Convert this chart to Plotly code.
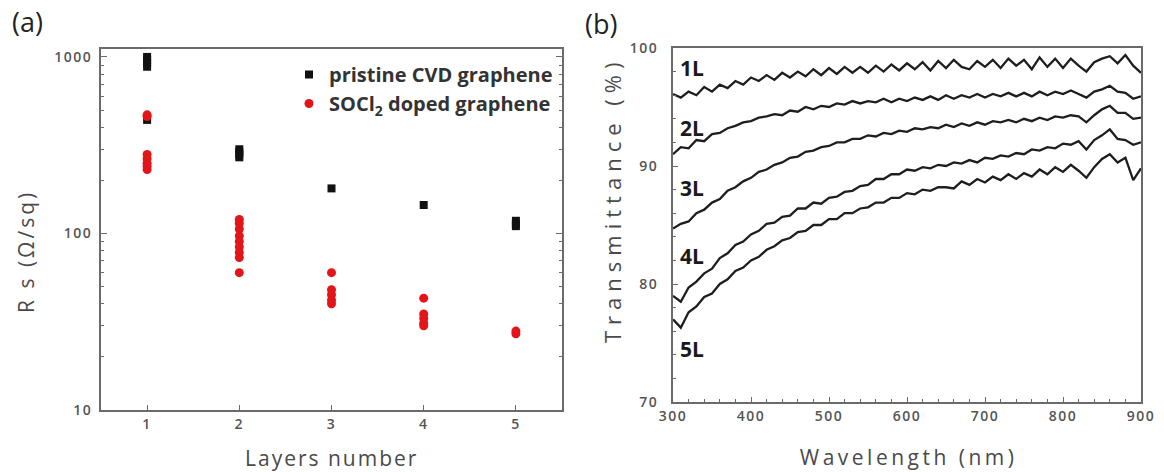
import plotly.graph_objects as go

# ---------------- Panel (a) data ----------------
pristine_layers = [1, 1, 1, 1, 1, 2, 2, 2, 2, 3, 4, 5, 5, 5]
pristine_rs = [1000, 960, 920, 880, 440, 300, 290, 280, 270, 180, 145, 118, 113, 110]

doped_layers = [1, 1, 1, 1, 1, 1, 1,
                2, 2, 2, 2, 2, 2, 2, 2, 2,
                3, 3, 3, 3, 3,
                4, 4, 4, 4, 4,
                5, 5]
doped_rs = [470, 460, 280, 265, 250, 240, 230,
            120, 114, 106, 97, 90, 84, 78, 73, 60,
            60, 48, 45, 42, 40,
            43, 35, 33, 31, 30,
            28, 27]

layer_ticks = [1, 2, 3, 4, 5]

# ---------------- Panel (b) data ----------------
wavelength = list(range(300, 901, 10))

t_1L = [96.1, 95.8, 96.3, 96.0, 96.7, 96.3, 96.9, 96.6, 97.2, 96.9,
        97.5, 97.2, 97.7, 97.3, 97.9, 97.5, 98.0, 97.6, 98.2, 97.7,
        98.3, 97.8, 98.4, 97.9, 98.4, 97.9, 98.5, 98.0, 98.6, 98.1,
        98.7, 98.2, 98.8, 98.1, 98.9, 98.3, 99.0, 98.4, 98.2, 98.9,
        98.4, 99.0, 98.3, 99.1, 98.5, 99.0, 98.2, 99.2, 98.4, 99.1,
        98.3, 99.1, 98.5, 98.0, 98.8, 99.1, 99.3, 98.7, 99.4, 98.5,
        97.9]
t_2L = [91.0, 91.6, 91.5, 92.2, 92.1, 92.7, 92.8, 93.2, 93.4, 93.7,
        93.8, 94.1, 94.2, 94.4, 94.3, 94.7, 94.6, 95.0, 94.8, 95.1,
        95.0, 95.3, 95.2, 95.5, 95.3, 95.5, 95.4, 95.7, 95.4, 95.7,
        95.5, 95.8, 95.6, 95.9, 95.6, 96.0, 95.7, 96.0, 95.8, 96.1,
        95.8, 96.1, 95.9, 96.2, 95.9, 96.2, 95.9, 96.3, 96.0, 96.3,
        96.1, 96.4, 96.1, 95.8, 96.3, 96.5, 96.8, 96.3, 96.2, 95.7,
        95.9]
t_3L = [84.7, 85.1, 85.3, 86.0, 86.3, 86.9, 87.2, 87.9, 88.2, 88.7,
        89.0, 89.5, 89.7, 90.1, 90.3, 90.7, 90.8, 91.2, 91.3, 91.6,
        91.7, 92.0, 92.0, 92.3, 92.3, 92.6, 92.5, 92.8, 92.7, 93.0,
        92.9, 93.2, 93.1, 93.3, 93.2, 93.5, 93.3, 93.6, 93.4, 93.7,
        93.5, 93.8, 93.7, 93.9, 93.7, 94.0, 93.8, 94.1, 93.9, 94.2,
        94.1, 94.3, 94.2, 93.7, 94.3, 94.8, 95.1, 94.5, 94.5, 94.0,
        94.1]
t_4L = [79.0, 78.5, 79.7, 80.2, 80.9, 81.3, 82.2, 82.6, 83.3, 83.6,
        84.2, 84.5, 85.1, 85.2, 85.7, 85.8, 86.4, 86.4, 86.9, 86.8,
        87.3, 87.4, 87.8, 87.9, 88.3, 88.4, 88.9, 88.9, 89.3, 89.3,
        89.7, 89.6, 89.9, 89.8, 90.1, 90.0, 90.3, 90.2, 90.5, 90.3,
        90.7, 90.6, 90.9, 90.8, 91.1, 91.0, 91.4, 91.3, 91.6, 91.5,
        91.9, 91.8, 92.1, 91.4, 92.2, 92.6, 93.1, 92.3, 92.2, 91.8,
        92.0]
t_5L = [77.0, 76.3, 77.6, 78.1, 78.9, 79.2, 80.0, 80.4, 81.1, 81.4,
        82.0, 82.3, 82.9, 83.2, 83.7, 83.9, 84.4, 84.5, 85.0, 85.0,
        85.5, 85.5, 86.0, 86.0, 86.4, 86.5, 86.9, 86.9, 87.3, 87.3,
        87.7, 87.6, 88.0, 87.9, 88.2, 88.2, 88.1, 88.7, 88.4, 88.9,
        88.6, 89.1, 88.8, 89.3, 88.9, 89.4, 89.1, 89.7, 89.3, 89.9,
        89.5, 90.1, 89.6, 89.0, 89.9, 90.6, 91.0, 90.3, 90.7, 88.8,
        89.8]

curve_names = ["1L", "2L", "3L", "4L", "5L"]
curves = [t_1L, t_2L, t_3L, t_4L, t_5L]
label_y = [98.3, 93.2, 88.1, 82.4, 74.5]
label_x = 306

W, H = 1164, 472
AX_COLOR = "#6a6a6a"
TXT = "#555555"

fig = go.Figure()

fig.add_trace(go.Scatter(
    x=pristine_layers, y=pristine_rs, mode="markers",
    name="pristine CVD graphene",
    marker=dict(symbol="square", size=8, color="#111111"),
    xaxis="x", yaxis="y"))
fig.add_trace(go.Scatter(
    x=doped_layers, y=doped_rs, mode="markers",
    name="SOCl<sub>2</sub> doped graphene",
    marker=dict(symbol="circle", size=9, color="#e3151a"),
    xaxis="x", yaxis="y"))

for name, vals in zip(curve_names, curves):
    fig.add_trace(go.Scatter(
        x=wavelength, y=vals, mode="lines", name=name, showlegend=False,
        line=dict(color="#1e1e1e", width=2.3),
        xaxis="x2", yaxis="y2"))

for name, ly in zip(curve_names, label_y):
    fig.add_annotation(x=label_x, y=ly, xref="x2", yref="y2", text="<b>%s</b>" % name,
                       showarrow=False, xanchor="left", yanchor="middle",
                       font=dict(family="Open Sans", size=21, color="#1a1a1a"))

def px(xp):
    return xp / W

def py(yp):
    return 1 - yp / H

minor_log = [20, 30, 40, 50, 60, 70, 80, 90, 200, 300, 400, 500, 600, 700, 800, 900]
tick_font = dict(family="Open Sans", size=14, color=TXT, weight=600)

fig.update_layout(
    width=W, height=H,
    margin=dict(l=0, r=0, t=0, b=0, pad=0, autoexpand=False),
    paper_bgcolor="white", plot_bgcolor="white",
    font=dict(family="Open Sans", color=TXT),
    showlegend=True,
    legend=dict(x=px(289), y=py(55), xanchor="left", yanchor="top",
                bgcolor="rgba(0,0,0,0)", borderwidth=0,
                font=dict(family="Open Sans", size=20, color="#333333", weight="bold"),
                itemwidth=30, tracegroupgap=0),
    xaxis=dict(domain=[px(101), px(562)], range=[0.5, 5.5], automargin=False,
               tickvals=layer_ticks, ticks="inside", ticklen=5, tickcolor=AX_COLOR,
               showline=True, linecolor=AX_COLOR, linewidth=2, mirror=True,
               showgrid=False, zeroline=False, tickfont=tick_font),
    yaxis=dict(domain=[py(410), py(49)], type="log", range=[1, 3.045], automargin=False,
               tickvals=[10, 100, 1000], ticktext=["10", "100", "1000"],
               ticks="inside", ticklen=6, tickcolor=AX_COLOR,
               minor=dict(tickvals=minor_log, ticks="inside", ticklen=3, tickcolor=AX_COLOR),
               showline=True, linecolor=AX_COLOR, linewidth=2, mirror="allticks",
               showgrid=False, zeroline=False, ticklabelstandoff=4, tickfont=tick_font),
    xaxis2=dict(domain=[px(673), px(1141)], range=[300, 900], anchor="y2", automargin=False,
                tickvals=[300, 400, 500, 600, 700, 800, 900],
                ticks="inside", ticklen=5, tickcolor=AX_COLOR,
                minor=dict(dtick=20, ticks="inside", ticklen=3, tickcolor=AX_COLOR),
                showline=True, linecolor=AX_COLOR, linewidth=2, mirror=True,
                showgrid=False, zeroline=False, tickfont=tick_font),
    yaxis2=dict(domain=[py(402), py(48)], range=[70, 100], anchor="x2", automargin=False,
                tickvals=[70, 80, 90, 100],
                ticks="inside", ticklen=5, tickcolor=AX_COLOR,
                minor=dict(dtick=2, ticks="inside", ticklen=3, tickcolor=AX_COLOR),
                showline=True, linecolor=AX_COLOR, linewidth=2, mirror=True,
                showgrid=False, zeroline=False, ticklabelstandoff=10, tickfont=tick_font),
)

title_font = dict(family="Open Sans", size=21, color="#4a4a4a")
fig.add_annotation(x=px(332), y=py(458), xref="paper", yref="paper", text="Layers number",
                   showarrow=False, xanchor="center", yanchor="middle", font=title_font)
fig.add_annotation(x=px(26), y=py(252), xref="paper", yref="paper", text="R s (Ω/sq)",
                   showarrow=False, textangle=-90, xanchor="center", yanchor="middle", font=title_font)
fig.add_annotation(x=px(908), y=py(457), xref="paper", yref="paper", text="Wavelength (nm)",
                   showarrow=False, xanchor="center", yanchor="middle", font=title_font)
fig.add_annotation(x=px(612), y=py(200), xref="paper", yref="paper", text="Transmittance (%)",
                   showarrow=False, textangle=-90, xanchor="center", yanchor="middle",
                   font=dict(family="Open Sans", size=22, color="#4a4a4a"))

panel_font = dict(family="Open Sans", size=27, color="#222222")
fig.add_annotation(x=px(10), y=py(22), xref="paper", yref="paper", text="(a)",
                   showarrow=False, xanchor="left", yanchor="middle", font=panel_font)
fig.add_annotation(x=px(583), y=py(24), xref="paper", yref="paper", text="(b)",
                   showarrow=False, xanchor="left", yanchor="middle", font=panel_font)

# page without body margin, and wider tracking of titles / tick labels as in the reference
post_js = """
document.documentElement.style.margin = '0';
document.documentElement.style.overflow = 'hidden';
document.body.style.margin = '0';
document.body.style.overflow = 'hidden';
var gd = document.getElementById('{plot_id}');
var sp = {'Wavelength (nm)': '3.5px', 'Transmittance (%)': '6px',
          'Layers number': '2px', 'R s (Ω/sq)': '3px'};
function applySpacing() {
  gd.querySelectorAll('text.annotation-text').forEach(function (t) {
    var v = sp[t.textContent];
    if (v) { t.style.letterSpacing = v; }
  });
  gd.querySelectorAll('g.xtick text, g.ytick text, g.x2tick text, g.y2tick text').forEach(function (t) {
    t.style.letterSpacing = '1.5px';
  });
}
applySpacing();
if (gd.on) { gd.on('plotly_afterplot', applySpacing); }
"""

fig.write_html("out.html", post_script=post_js, config={"displayModeBar": False})
